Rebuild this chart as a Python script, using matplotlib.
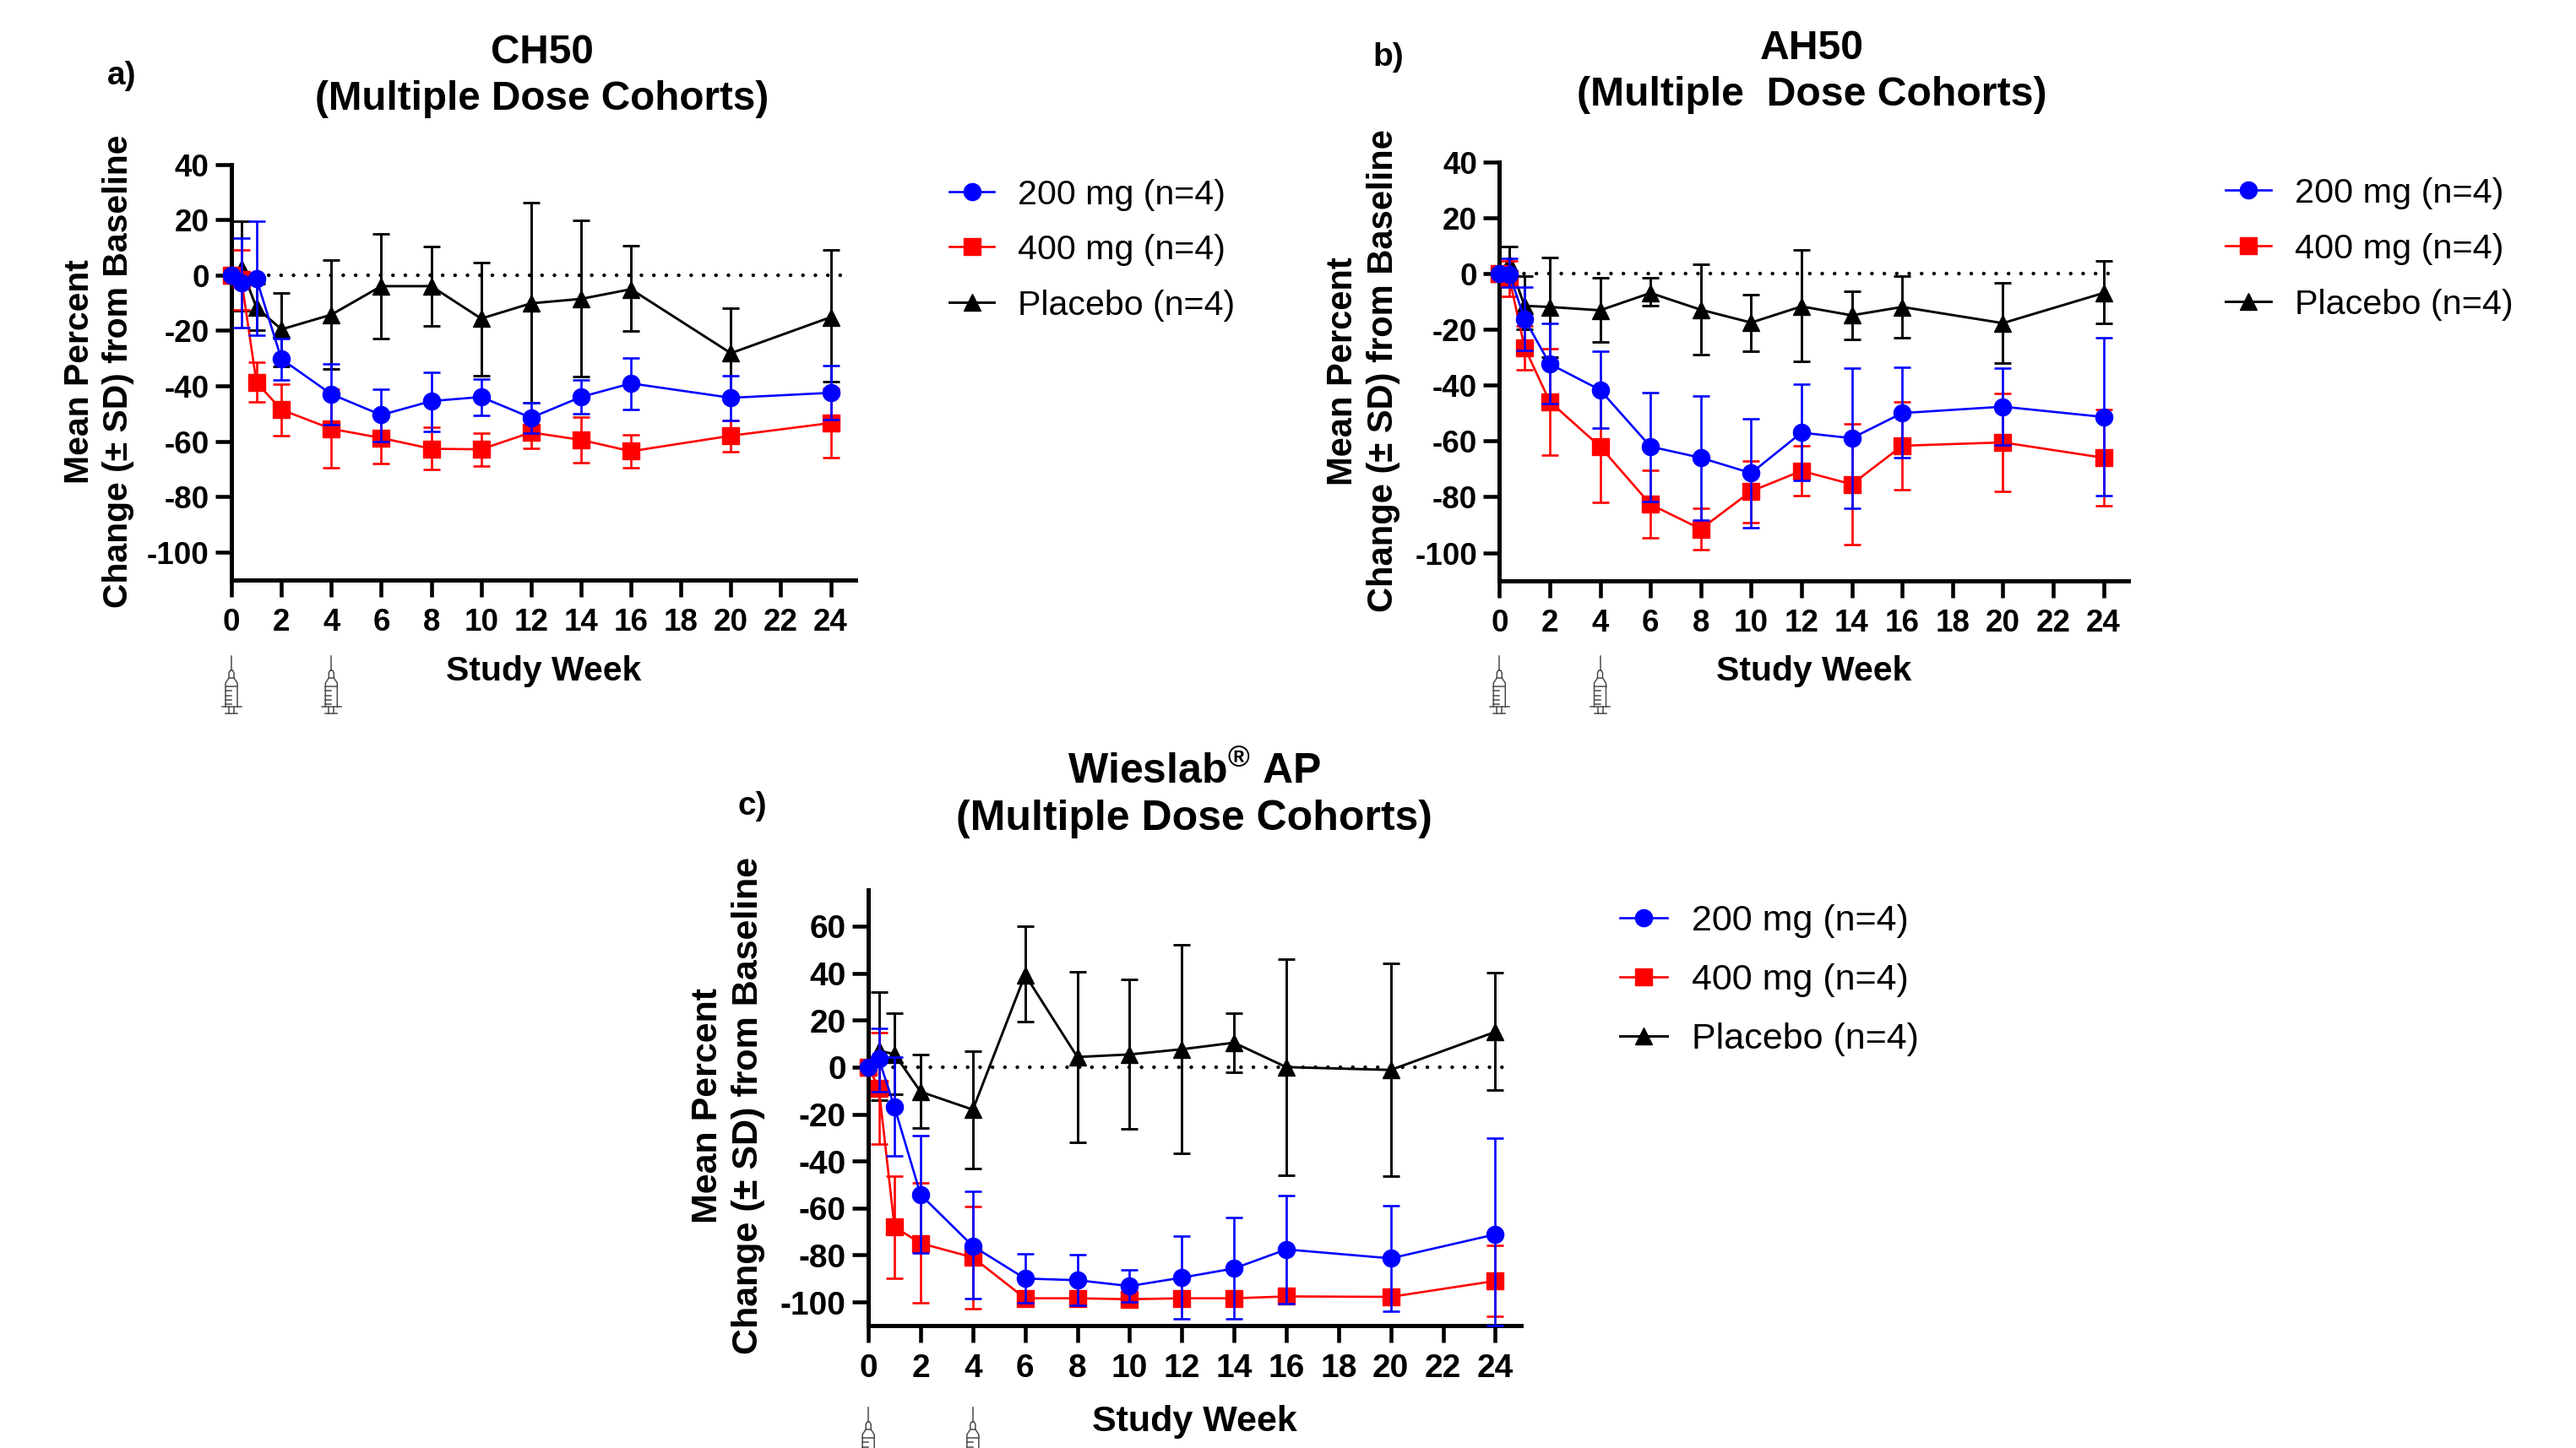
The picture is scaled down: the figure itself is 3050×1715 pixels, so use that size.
import numpy as np
import matplotlib
matplotlib.use('Agg')
import matplotlib.pyplot as plt
from matplotlib.lines import Line2D
from matplotlib.transforms import Affine2D

plt.rcParams['font.family'] = ['Liberation Sans', 'DejaVu Sans']
plt.rcParams['axes.unicode_minus'] = False
plt.rcParams['mathtext.fontset'] = 'custom'
plt.rcParams['mathtext.bf'] = 'Liberation Sans:bold'
plt.rcParams['mathtext.default'] = 'bf'

# study weeks, same for all panels
weeks = [0, 0.4, 1, 2, 4, 6, 8, 10, 12, 14, 16, 20, 24]
xticks = list(range(0, 25, 2))

# a) CH50
a_blue_mean = [0, -2.8, -1.3, -30.3, -43, -50.5, -45.5, -44, -51.5, -44, -39.1, -44.3, -42.5]
a_blue_hi = [0, 13.4, 19.4, -23, -32, -41.3, -35, -37.4, -46, -38, -29.8, -36.4, -32.8]
a_blue_lo = [0, -19, -21.7, -38, -54, -60, -56.3, -50.7, -57, -50, -48.5, -52.4, -52.2]
a_red_mean = [0, -1.7, -38.7, -48.6, -55.5, -58.8, -62.7, -62.9, -56.8, -59.5, -63.6, -58, -53.4]
a_red_hi = [0, 9.2, -31.6, -39.5, -41.3, -50, -54.8, -57, -51, -51.3, -57.6, -52.4, -40.8]
a_red_lo = [0, -12.6, -45.8, -58, -69.7, -68, -70.3, -69, -62.6, -67.8, -69.5, -63.7, -66]
a_pbo_mean = [0, 2.5, -11.7, -19.6, -14.3, -4, -4, -15.7, -10.2, -8.6, -5.1, -28.2, -15.2]
a_pbo_hi = [0, 19.4, -3, -6.6, 5.5, 14.8, 10.2, 4.4, 26.2, 19.7, 10.7, -12.1, 9]
a_pbo_lo = [0, -13, -20, -33, -34, -22.8, -18.3, -36.3, -46, -36.6, -20.3, -44.3, -38.5]

# b) AH50
b_blue_mean = [0, -0.2, -16.3, -32.4, -41.7, -62, -66, -71.5, -57, -59, -50, -47.7, -51.4]
b_blue_hi = [0, 5.3, -5, -18, -28, -42.7, -44, -52, -39.6, -34, -33.7, -34, -23]
b_blue_lo = [0, -5, -27.5, -46.6, -55.5, -81.6, -88.4, -91, -74, -84, -66, -61.5, -79.7]
b_red_mean = [0, -1.8, -26.5, -45.9, -62, -82.7, -91.5, -78, -70.7, -75.5, -61.7, -60.5, -66]
b_red_hi = [0, 4.5, -18.7, -27, -42, -70.5, -84, -67.2, -61.7, -54, -46, -43, -48.6]
b_red_lo = [0, -8.2, -34.4, -65, -82, -94.8, -98.8, -89.3, -79.7, -97, -77.4, -78, -83.2]
b_pbo_mean = [0, 3.5, -11.6, -12, -13.2, -7, -13, -17.6, -11.8, -15, -12, -17.8, -7]
b_pbo_hi = [0, 9.6, -1, 5.7, -1.6, -1.5, 3.4, -7.7, 8.5, -6.4, -1, -3.3, 4.6]
b_pbo_lo = [0, -3, -20, -30, -24.6, -11.6, -29, -27.8, -31.5, -23.6, -23, -32, -18]

# c) Wieslab AP
c_blue_mean = [0, 3.5, -17, -54.3, -76.2, -90, -90.7, -93.2, -89.6, -85.7, -77.6, -81.4, -71.2]
c_blue_hi = [0, 16.4, 4.4, -29.3, -53, -79.6, -80, -86.3, -72, -64, -54.6, -58.9, -30.3]
c_blue_lo = [0, -10.5, -37.7, -79, -98.6, -100.2, -101.5, -99.8, -107.3, -107.3, -100.7, -104, -110]
c_red_mean = [0, -8.9, -68, -75, -81, -98.4, -98.4, -98.8, -98.4, -98.4, -97.6, -97.8, -91]
c_red_hi = [0, 14.6, -46.4, -49.4, -59.5, -97, -97, -97, -97, -97, -96, -96, -76]
c_red_lo = [0, -32.6, -90, -100.2, -103, -100, -100, -100.5, -100, -100, -99, -99.5, -106]
c_pbo_mean = [0, 7, 5.5, -10.5, -18.1, 39.3, 4.3, 5.4, 7.6, 10.4, 0, -1.2, 15]
c_pbo_hi = [0, 32, 23, 5.2, 6.7, 60, 40.6, 37.4, 52, 23, 45.8, 44, 40.3]
c_pbo_lo = [0, -14, -11.6, -26, -43, 19.4, -32, -26.3, -36.8, -2.3, -46, -46.4, -9.8]

W, H = 3050, 1715
fig = plt.figure(figsize=((W + 0.5) / 100, (H + 0.5) / 100), dpi=100, facecolor='white')
to_px = Affine2D().scale(1, -1).translate(0, H)   # y down, as in the picture


def ftext(x, y, s, **kw):
    fig.text(x / W, 1 - y / H, s, ha='center', va='center', **kw)


def syringe(x, y):
    # little injection icon, y is the tip of the needle
    c = '#4a4a4a'
    segs = [
        ([0, 0], [0, 17]),
        ([-3, -3, -1.5, 1.5, 3, 3], [26, 20, 17, 17, 20, 26]),
        ([-7, -7, -3, 3, 7, 7], [60, 32, 26, 26, 32, 60]),
        ([-7, 7], [36, 36]),
        ([-7, 0], [41, 41]), ([-7, 0], [47, 47]), ([-7, 0], [52, 52]), ([-7, 0], [57, 57]),
        ([-11.5, 11.5], [60, 60]),
        ([-3, -3], [60, 68]), ([3, 3], [60, 68]),
        ([-7, 7], [68, 68]),
    ]
    for sx, sy in segs:
        line = Line2D(np.array(sx) + x, np.array(sy) + y, color=c, lw=1.1,
                      transform=to_px, clip_on=False)
        fig.add_artist(line)


def panel(box, ylim, yticks, series, legend_xy, legend_gap, legend_size, tick_size, needle_y):
    left, top, right, bottom = box
    ax = fig.add_axes([left / W, 1 - bottom / H, (right - left) / W, (bottom - top) / H])
    ax.set_xlim(0, 25)
    ax.set_ylim(*ylim)

    ax.plot([0, 24.55], [0, 0], color='black', lw=3.2, zorder=1,
            linestyle=(0, (0.01, 3.3)), dash_capstyle='round', clip_on=False)

    handles = {}
    for name, mean, hi, lo, color, marker, z in series:
        mean = np.array(mean)
        yerr = [mean - np.array(lo), np.array(hi) - mean]
        lw = 2.1 if color == 'black' else 1.9
        cont = ax.errorbar(weeks, mean, yerr=yerr, color=color, marker=marker, ms=14.5,
                           mec=color, mfc=color, lw=lw, elinewidth=lw, capsize=7.2,
                           capthick=lw, zorder=z)
        cont[0].set_clip_on(False)
        for art in cont[1] + cont[2]:
            art.set_clip_on(False)
        handles[name] = cont[0]

    for side in ['top', 'right']:
        ax.spines[side].set_visible(False)
    for side in ['left', 'bottom']:
        ax.spines[side].set_linewidth(3.6)
    ax.set_xticks(xticks)
    ax.set_yticks(yticks)
    ax.tick_params(axis='x', length=14.5, width=3.3, pad=9, labelsize=tick_size)
    ax.tick_params(axis='y', length=14, width=3.3, pad=5, labelsize=tick_size)
    for lab in ax.get_xticklabels() + ax.get_yticklabels():
        lab.set_fontweight('bold')

    names = ['200 mg (n=4)', '400 mg (n=4)', 'Placebo (n=4)']
    fig.legend([handles[n] for n in names], names, loc='center left',
               bbox_to_anchor=(legend_xy[0] / W, 1 - legend_xy[1] / H),
               frameon=False, fontsize=legend_size, borderpad=0, borderaxespad=0,
               handlelength=1.29, handletextpad=0.68, labelspacing=legend_gap)

    for wk in [0, 4]:
        px = ax.transData.transform((wk, 0))[0]
        syringe(px, needle_y)
    return ax


panel((274, 195, 1013, 687), (-110, 40), list(range(-100, 41, 20)),
      [('Placebo (n=4)', a_pbo_mean, a_pbo_hi, a_pbo_lo, 'black', '^', 3),
       ('400 mg (n=4)', a_red_mean, a_red_hi, a_red_lo, 'red', 's', 4),
       ('200 mg (n=4)', a_blue_mean, a_blue_hi, a_blue_lo, 'blue', 'o', 5)],
      (1124, 296), 0.67, 29.6, 26.5, 777)

panel((1775, 192, 2520, 688), (-110, 40), list(range(-100, 41, 20)),
      [('Placebo (n=4)', b_pbo_mean, b_pbo_hi, b_pbo_lo, 'black', '^', 3),
       ('400 mg (n=4)', b_red_mean, b_red_hi, b_red_lo, 'red', 's', 4),
       ('200 mg (n=4)', b_blue_mean, b_blue_hi, b_blue_lo, 'blue', 'o', 5)],
      (2635, 295), 0.67, 29.8, 26.5, 777)

panel((1028, 1054, 1801, 1570), (-110, 75.5), list(range(-100, 61, 20)),
      [('Placebo (n=4)', c_pbo_mean, c_pbo_hi, c_pbo_lo, 'black', '^', 3),
       ('400 mg (n=4)', c_red_mean, c_red_hi, c_red_lo, 'red', 's', 4),
       ('200 mg (n=4)', c_blue_mean, c_blue_hi, c_blue_lo, 'blue', 'o', 5)],
      (1918, 1161), 0.7, 31, 28, 1667)

ylabel = 'Mean Percent\nChange (± SD) from Baseline'
ftext(117, 440, ylabel, rotation=90, fontsize=29.4, fontweight='bold', linespacing=1.27)
ftext(1614, 439, ylabel, rotation=90, fontsize=30, fontweight='bold', linespacing=1.27)
ftext(862, 1309, ylabel, rotation=90, fontsize=31, fontweight='bold', linespacing=1.27)

ftext(644, 795, 'Study Week', fontsize=29.5, fontweight='bold')
ftext(2147, 795, 'Study Week', fontsize=29.5, fontweight='bold')
ftext(1414, 1684, 'Study Week', fontsize=31, fontweight='bold')

ftext(642, 90, 'CH50\n(Multiple Dose Cohorts)', fontsize=34.3, fontweight='bold', linespacing=1.27)
ftext(2145, 85, 'AH50\n(Multiple  Dose Cohorts)', fontsize=34.7, fontweight='bold', linespacing=1.27)
ftext(1414, 914, 'Wieslab$^{®}$ AP', fontsize=36, fontweight='bold')
ftext(1414, 970, '(Multiple Dose Cohorts)', fontsize=36, fontweight='bold')

ftext(144, 90, 'a)', fontsize=28, fontweight='bold')
ftext(1643, 68, 'b)', fontsize=28, fontweight='bold')
ftext(891, 955, 'c)', fontsize=28, fontweight='bold')

fig.savefig('out.png', dpi=100, facecolor='white')
